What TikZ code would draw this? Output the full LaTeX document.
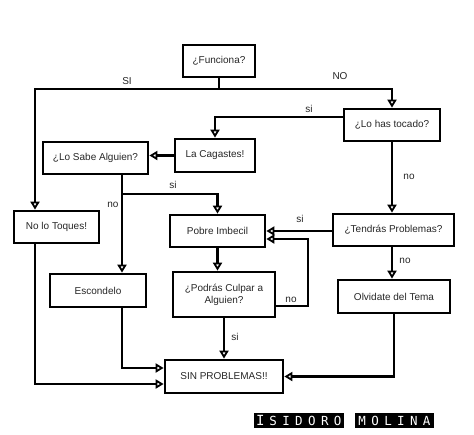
\documentclass[tikz,border=0pt]{standalone}
\usepackage{fontspec}
\setmainfont{Liberation Sans}
\newfontfamily\wmfont{DejaVu Sans Mono}
\usetikzlibrary{arrows.meta}
\newcommand{\wl}[1]{\makebox[12.9pt]{#1}}
\begin{document}
\begin{tikzpicture}[x=1pt,y=-1pt,
  box/.style={draw,line width=2.7pt,inner sep=0pt,align=center,font=\fontsize{10}{12}\selectfont,text=black!85},
  arr/.style={line width=2.4pt,-{Triangle[open,length=8pt,width=9pt,line width=1.8pt]}},
  ln/.style={line width=2.4pt},
  lab/.style={font=\fontsize{10}{12}\selectfont,text=black!85,inner sep=0pt},
  wm/.style={fill=black,text=white,inner sep=0pt,font=\wmfont\fontsize{12.5}{12.5}\selectfont}]
\useasboundingbox (0,0) rectangle (474,434);
\node[box,minimum width=72pt,minimum height=32pt] (fun) at (219,61) {¿Funciona?};
\node[box,minimum width=96pt,minimum height=32pt] (tocado) at (392,125) {¿Lo has tocado?};
\node[box,minimum width=80pt,minimum height=33pt] (cagaste) at (215,155.5) {La Cagastes!};
\node[box,minimum width=105pt,minimum height=32pt] (sabe) at (95.5,158) {¿Lo Sabe Alguien?};
\node[box,minimum width=85pt,minimum height=32pt] (toques) at (56.5,227) {No lo Toques!};
\node[box,minimum width=96pt,minimum height=33pt] (escondelo) at (98,290.5) {Escondelo};
\node[box,minimum width=95pt,minimum height=32pt] (pobre) at (217.5,231) {Pobre Imbecil};
\node[box,minimum width=102pt,minimum height=45pt] (podras) at (224,294.5) {¿Podrás Culpar a\\Alguien?};
\node[box,minimum width=121pt,minimum height=32pt] (tendras) at (393.5,230) {¿Tendrás Problemas?};
\node[box,minimum width=112pt,minimum height=33pt] (olvidate) at (394,296.5) {Olvidate del Tema};
\node[box,minimum width=118pt,minimum height=33pt] (sin) at (224,376.5) {SIN PROBLEMAS!!};
\coordinate (j1) at (219,89);
\coordinate (j2) at (122,194);
\coordinate (j3) at (308,239);
% connectors
\draw[ln] (fun.south) -- (j1);
\draw[arr] (j1) -| ([xshift=-21.5pt]toques.north);
\draw[arr] (j1) -| (tocado.north);
\draw[arr] ([yshift=8pt]tocado.west) -| (cagaste.north);
\draw[arr] (cagaste.west) -- (cagaste.west -| sabe.east);
\draw[ln] ([xshift=26.5pt]sabe.south) -- (j2);
\draw[arr] (j2) -| (pobre.north);
\draw[arr] (j2) -- (escondelo.north -| j2);
\draw[arr] ([xshift=-21.5pt]toques.south) |- ([yshift=-7.5pt]sin.west);
\draw[arr] (escondelo.south -| j2) |- ([yshift=8.5pt]sin.west);
\draw[arr] (pobre.south) -- (pobre.south |- podras.north);
\draw[arr] (podras.south) -- (sin.north);
\draw[arr] ([yshift=-11.5pt]podras.east) -| (j3) -- (j3 -| pobre.east);
\draw[arr] (tendras.west |- pobre.east) -- (pobre.east);
\draw[arr] (tocado.south) -- (tocado.south |- tendras.north);
\draw[arr] (tocado.south |- tendras.south) -- (tocado.south |- olvidate.north);
\draw[arr] (olvidate.south) |- (sin.east);
% labels
\node[lab] (l1) at (127,81) {SI};
\node[lab] (l2) at (340,76) {NO};
\node[lab] (l3) at (309,109) {si};
\node[lab] (l4) at (173,185) {si};
\node[lab] (l5) at (113,205) {no};
\node[lab] (l6) at (409,177) {no};
\node[lab] (l7) at (300,219) {si};
\node[lab] (l8) at (405,261) {no};
\node[lab] (l9) at (291,300) {no};
\node[lab] (l10) at (235,337) {si};
% watermark
\node[wm,minimum width=90pt,minimum height=15pt] (w1) at (299,420.5) {\wl{\fontsize{14}{14}\selectfont I}\wl{S}\wl{I}\wl{D}\wl{O}\wl{R}\wl{O}};
\node[wm,minimum width=79pt,minimum height=15pt] (w2) at (394.5,420.5) {\wl{M}\wl{O}\wl{L}\wl{I}\wl{N}\wl{A}};
\end{tikzpicture}
\end{document}
